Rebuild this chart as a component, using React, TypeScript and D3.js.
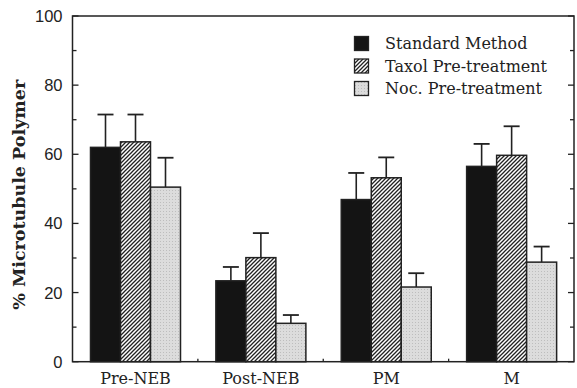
import React, { useEffect, useRef } from 'react';
import * as d3 from 'd3';

const categories = ["Pre-NEB", "Post-NEB", "PM", "M"];
const seriesNames = ["Standard Method", "Taxol Pre-treatment", "Noc. Pre-treatment"];
const standardMean = [62.0, 23.4, 46.9, 56.5];
const standardErr = [9.5, 4.0, 7.7, 6.5];
const taxolMean = [63.6, 30.1, 53.2, 59.7];
const taxolErr = [7.9, 7.1, 5.9, 8.4];
const nocMean = [50.5, 11.1, 21.6, 28.8];
const nocErr = [8.5, 2.4, 4.0, 4.5];
const yTicks = [0, 20, 40, 60, 80, 100];

const W = 577;
const H = 388;
const fills = ["#141414", "url(#hatch)", "url(#stipple)"];

function App() {
  const ref = useRef<SVGSVGElement>(null);

  useEffect(() => {
    const svg = d3.select(ref.current);
    svg.selectAll("*").remove();

    const left = 72.5, right = 574, top = 16, bottom = 361.7;

    const defs = svg.append("defs");
    const hatch = defs.append("pattern")
      .attr("id", "hatch")
      .attr("patternUnits", "userSpaceOnUse")
      .attr("width", 4).attr("height", 4);
    hatch.append("rect").attr("width", 4).attr("height", 4).attr("fill", "#fff");
    hatch.append("path")
      .attr("d", "M-1,1 l2,-2 M0,4 l4,-4 M3,5 l2,-2")
      .attr("stroke", "#222").attr("stroke-width", 1.3);

    const stipple = defs.append("pattern")
      .attr("id", "stipple")
      .attr("patternUnits", "userSpaceOnUse")
      .attr("width", 3).attr("height", 3);
    stipple.append("rect").attr("width", 3).attr("height", 3).attr("fill", "#dcdcdc");
    stipple.append("rect").attr("x", 1).attr("y", 1).attr("width", 1).attr("height", 1).attr("fill", "#bdbdbd");

    const x0 = d3.scaleBand().domain(categories).range([left, right]).paddingInner(0).paddingOuter(0);
    const x1 = d3.scaleBand().domain(seriesNames).range([18, 108]);
    const y = d3.scaleLinear().domain([0, 100]).range([bottom, top]);

    const series = [
      { name: seriesNames[0], mean: standardMean, err: standardErr },
      { name: seriesNames[1], mean: taxolMean, err: taxolErr },
      { name: seriesNames[2], mean: nocMean, err: nocErr },
    ];

    // frame
    svg.append("rect")
      .attr("x", left).attr("y", top)
      .attr("width", right - left).attr("height", bottom - top)
      .attr("fill", "none").attr("stroke", "#222").attr("stroke-width", 1.5);

    // inward ticks on both sides
    const g = svg.append("g");
    d3.range(0, 101, 10).forEach(v => {
      const major = v % 20 === 0;
      g.append("line")
        .attr("x1", left).attr("x2", left + (major ? 6 : 4))
        .attr("y1", y(v)).attr("y2", y(v))
        .attr("stroke", "#222").attr("stroke-width", 1.3);
      g.append("line")
        .attr("x1", right).attr("x2", right - (major ? 6 : 4))
        .attr("y1", y(v)).attr("y2", y(v))
        .attr("stroke", "#222").attr("stroke-width", 1.3);
    });
    g.selectAll(".ytl").data(yTicks).enter().append("text")
      .attr("x", left - 10).attr("y", d => y(d))
      .attr("dy", "0.36em")
      .attr("text-anchor", "end")
      .attr("font-family", "Liberation Sans, Arial, sans-serif")
      .attr("font-size", 16.5).attr("fill", "#222")
      .text(d => d);

    // bottom ticks at band boundaries
    categories.slice(1).forEach(c => {
      g.append("line")
        .attr("x1", x0(c)!).attr("x2", x0(c)!)
        .attr("y1", bottom).attr("y2", bottom - 3)
        .attr("stroke", "#222").attr("stroke-width", 1.3);
    });

    g.selectAll(".xtl").data(categories).enter().append("text")
      .attr("x", d => x0(d)! + 63)
      .attr("y", 384)
      .attr("text-anchor", "middle")
      .attr("font-family", "DejaVu Serif, serif")
      .attr("font-size", 16).attr("fill", "#222")
      .text(d => d);

    // y label
    svg.append("text")
      .attr("transform", `translate(25,${(top + bottom) / 2 + 6}) rotate(-90)`)
      .attr("text-anchor", "middle")
      .attr("font-family", "DejaVu Serif, serif")
      .attr("font-weight", "bold")
      .attr("font-size", 17.5).attr("fill", "#222")
      .text("% Microtubule Polymer");

    // bars with upward error bars
    series.forEach((s, si) => {
      const sg = svg.append("g");
      categories.forEach((c, ci) => {
        const bx = x0(c)! + x1(s.name)!;
        const bw = x1.bandwidth();
        const cx = bx + bw / 2;
        sg.append("line")
          .attr("x1", cx).attr("x2", cx)
          .attr("y1", y(s.mean[ci])).attr("y2", y(s.mean[ci] + s.err[ci]))
          .attr("stroke", "#222").attr("stroke-width", 1.6);
        sg.append("line")
          .attr("x1", cx - 8).attr("x2", cx + 8)
          .attr("y1", y(s.mean[ci] + s.err[ci])).attr("y2", y(s.mean[ci] + s.err[ci]))
          .attr("stroke", "#222").attr("stroke-width", 1.8);
        sg.append("rect")
          .attr("x", bx).attr("y", y(s.mean[ci]))
          .attr("width", bw).attr("height", bottom - y(s.mean[ci]))
          .attr("fill", fills[si])
          .attr("stroke", "#222").attr("stroke-width", 1.5);
      });
    });

    // legend
    const lg = svg.append("g").attr("transform", "translate(354,36)");
    seriesNames.forEach((n, i) => {
      lg.append("rect")
        .attr("x", 0.5).attr("y", i * 22.5 + 0.5)
        .attr("width", 14).attr("height", 14)
        .attr("fill", fills[i])
        .attr("stroke", "#222").attr("stroke-width", 1.3);
      lg.append("text")
        .attr("x", 31).attr("y", i * 22.5 + 13)
        .attr("font-family", "DejaVu Serif, serif")
        .attr("font-size", 16).attr("fill", "#222")
        .text(n);
    });
  }, []);

  return (
    <svg ref={ref} width={W} height={H}
      style={{ position: 'fixed', left: 0, top: 0, background: '#fff' }} />
  );
}

export default App;
